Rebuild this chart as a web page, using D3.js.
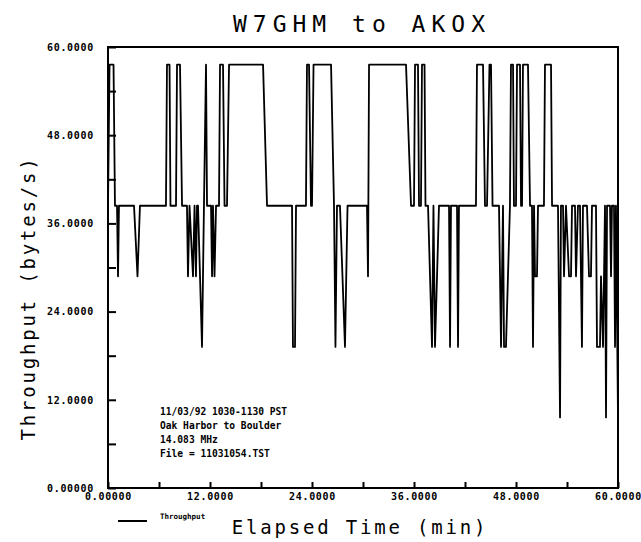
<!DOCTYPE html>
<style>
    body { margin: 0; background: #fff; }
    .axis path, .axis line { stroke: #000; stroke-width: 2px; }
    .axis text { font-family: "DejaVu Sans Mono", monospace; font-weight: bold; font-size: 10px; letter-spacing: 0.7px; fill: #000; }
    .big { font-family: "DejaVu Sans Mono", monospace; fill: #000; }
    .note { font-family: "DejaVu Sans Mono", monospace; font-weight: bold; font-size: 9.6px; fill: #000; }
</style>
<body>
<script src="https://d3js.org/d3.v7.min.js"></script>
<script>
    // elapsed time (min) and throughput (bytes/s)
    var elapsedMin = [0, 0.18, 0.65, 0.82, 1.06, 1.18, 1.29, 3.06, 3.47, 3.76,
        6.82, 6.94, 7.24, 7.35, 8.0, 8.12, 8.47, 8.71, 9.29, 9.41,
        9.59, 10.0, 10.18, 10.35, 10.47, 10.59, 11.06, 11.29, 11.53, 11.65,
        12.12, 12.24, 12.35, 12.53, 12.71, 13.06, 13.18, 13.53, 13.71, 14.0,
        14.24, 18.24, 18.71, 21.65, 21.76, 22.0, 22.12, 23.29, 23.41, 23.65,
        23.88, 24.0, 24.18, 26.24, 26.59, 26.76, 26.94, 27.29, 27.88, 28.18,
        30.47, 30.59, 30.71, 35.06, 35.65, 36.0, 36.12, 36.47, 36.59, 36.82,
        36.94, 37.24, 37.35, 37.65, 38.12, 38.29, 38.47, 38.71, 38.94, 40.12,
        40.24, 40.35, 41.06, 41.18, 41.29, 43.29, 43.41, 44.12, 44.35, 44.59,
        44.88, 45.06, 45.24, 46.0, 46.24, 46.47, 46.59, 46.82, 47.29, 47.41,
        47.65, 47.76, 48.0, 48.12, 48.47, 48.59, 48.71, 48.82, 49.41, 49.65,
        49.88, 50.0, 50.12, 50.24, 50.47, 50.59, 51.29, 51.41, 52.12, 52.24,
        52.94, 53.18, 53.29, 53.53, 53.65, 53.88, 54.24, 54.47, 54.59, 54.94,
        55.06, 55.29, 55.53, 55.76, 55.88, 56.35, 56.59, 56.82, 56.94, 57.41,
        57.53, 57.88, 58.0, 58.24, 58.47, 58.59, 58.71, 59.06, 59.18, 59.29,
        59.53, 59.65, 59.76, 60.0];
    var throughput = [38.4, 57.6, 57.6, 38.4, 38.4, 28.8, 38.4, 38.4, 28.8, 38.4,
        38.4, 57.6, 57.6, 38.4, 38.4, 57.6, 57.6, 38.4, 38.4, 28.8,
        38.4, 28.8, 38.4, 28.8, 38.4, 38.4, 19.2, 38.4, 57.6, 38.4,
        38.4, 28.8, 38.4, 28.8, 38.4, 38.4, 57.6, 57.6, 38.4, 38.4,
        57.6, 57.6, 38.4, 38.4, 19.2, 19.2, 38.4, 38.4, 57.6, 57.6,
        38.4, 38.4, 57.6, 57.6, 38.4, 19.2, 38.4, 38.4, 19.2, 38.4,
        38.4, 28.8, 57.6, 57.6, 38.4, 38.4, 57.6, 57.6, 38.4, 38.4,
        57.6, 57.6, 38.4, 38.4, 19.2, 38.4, 19.2, 28.8, 38.4, 38.4,
        19.2, 38.4, 38.4, 19.2, 38.4, 38.4, 57.6, 57.6, 38.4, 38.4,
        57.6, 57.6, 38.4, 38.4, 19.2, 38.4, 19.2, 19.2, 38.4, 57.6,
        57.6, 38.4, 38.4, 57.6, 57.6, 38.4, 38.4, 57.6, 57.6, 38.4,
        38.4, 19.2, 38.4, 28.8, 28.8, 38.4, 38.4, 57.6, 57.6, 38.4,
        38.4, 9.6, 38.4, 38.4, 28.8, 38.4, 28.8, 28.8, 38.4, 38.4,
        28.8, 38.4, 38.4, 19.2, 38.4, 38.4, 28.8, 28.8, 38.4, 38.4,
        19.2, 19.2, 28.8, 19.2, 38.4, 9.6, 38.4, 38.4, 28.8, 38.4,
        38.4, 19.2, 38.4, 9.6];
    var tickValues = [0, 6, 12, 18, 24, 30, 36, 42, 48, 54, 60];
    var tickLabels = ["0.00000", "", "12.0000", "", "24.0000", "", "36.0000", "", "48.0000", "", "60.0000"];
    var noteLines = ["11/03/92 1030-1130 PST", "Oak Harbor to Boulder", "14.083 MHz", "File = 11031054.TST"];

    var svg = d3.select("body").append("svg")
        .attr("width", 641)
        .attr("height", 542);

    var x = d3.scaleLinear().domain([0, 60]).range([108, 618]);
    var y = d3.scaleLinear().domain([0, 60]).range([488, 47]);
    var label = function(d) { return tickLabels[tickValues.indexOf(d)]; };

    // frame
    svg.append("rect")
        .attr("x", x(0)).attr("y", y(60))
        .attr("width", x(60) - x(0)).attr("height", y(0) - y(60))
        .attr("fill", "none").attr("stroke", "#000").attr("stroke-width", 2);

    svg.append("g")
        .attr("class", "axis")
        .attr("transform", "translate(" + x(0) + ",0)")
        .call(d3.axisLeft(y).tickValues(tickValues).tickSize(-8).tickPadding(14).tickFormat(label))
        .call(function(g) { g.select(".domain").remove(); });

    svg.append("g")
        .attr("class", "axis")
        .attr("transform", "translate(0," + y(0) + ")")
        .call(d3.axisBottom(x).tickValues(tickValues).tickSize(-6).tickPadding(5).tickFormat(label))
        .call(function(g) { g.select(".domain").remove(); });

    // throughput trace
    var line = d3.line()
        .x(function(d, i) { return x(elapsedMin[i]); })
        .y(function(d) { return y(d); });

    svg.append("path")
        .datum(throughput)
        .attr("fill", "none")
        .attr("stroke", "#000")
        .attr("stroke-width", 1.8)
        .attr("stroke-linejoin", "round")
        .attr("d", line);

    // titles
    svg.append("text").attr("class", "big")
        .attr("x", 362).attr("y", 32)
        .attr("text-anchor", "middle")
        .style("font-size", "23px").style("letter-spacing", "6px")
        .text("W7GHM to AKOX");

    svg.append("text").attr("class", "big")
        .attr("x", 360).attr("y", 534)
        .attr("text-anchor", "middle")
        .style("font-size", "19px").style("letter-spacing", "2.8px")
        .text("Elapsed Time (min)");

    svg.append("text").attr("class", "big")
        .attr("transform", "translate(35,298) rotate(-90)")
        .attr("text-anchor", "middle")
        .style("font-size", "19px").style("letter-spacing", "2.8px")
        .text("Throughput (bytes/s)");

    // notes
    svg.append("g").selectAll("text")
        .data(noteLines)
        .enter().append("text")
        .attr("class", "note")
        .attr("x", 160)
        .attr("y", function(d, i) { return 415 + i * 14; })
        .text(function(d) { return d; });

    // legend
    svg.append("line")
        .attr("x1", 118).attr("x2", 147).attr("y1", 521).attr("y2", 521)
        .attr("stroke", "#000").attr("stroke-width", 2);
    svg.append("text").attr("class", "note")
        .attr("x", 160).attr("y", 519)
        .style("font-size", "7.5px")
        .text("Throughput");
</script>
</body>
